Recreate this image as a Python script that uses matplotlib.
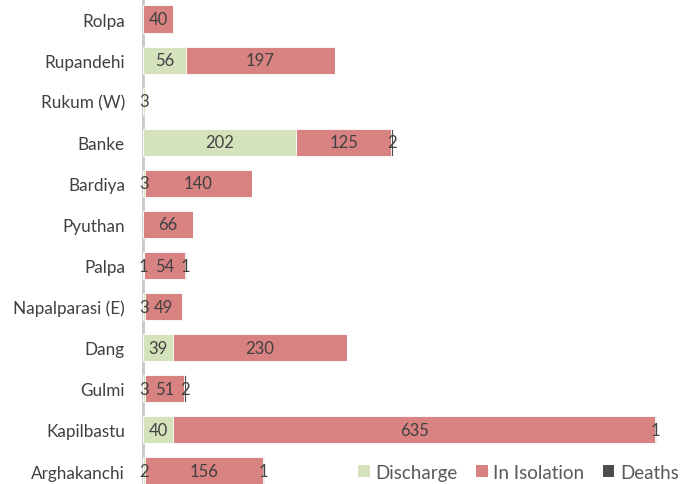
import numpy as np
import matplotlib.pyplot as plt
from matplotlib.patches import Patch

districts = ["Rolpa", "Rupandehi", "Rukum (W)", "Banke", "Bardiya", "Pyuthan",
             "Palpa", "Napalparasi (E)", "Dang", "Gulmi", "Kapilbastu", "Arghakanchi"]
discharge = [0, 56, 3, 202, 3, 0, 1, 3, 39, 3, 40, 2]
isolation = [40, 197, 0, 125, 140, 66, 54, 49, 230, 51, 635, 156]
deaths = [0, 0, 0, 2, 0, 0, 1, 0, 0, 2, 1, 1]

series = [("Discharge", discharge, "#d5e3bc"),
          ("In Isolation", isolation, "#d88282"),
          ("Deaths", deaths, "#4d4d4d")]

plt.rcParams["font.family"] = ["Lato", "DejaVu Sans"]
txt = "#404040"

fig = plt.figure(figsize=(6.82, 4.85), dpi=100)
ax = fig.add_axes([143 / 682, 0, 539 / 682, 1])

y = np.arange(len(districts))
left = np.zeros(len(districts))
for name, vals, col in series:
    vals = np.array(vals, dtype=float)
    ax.barh(y, vals, left=left, height=0.66, color=col, edgecolor="white",
            linewidth=0.6, label=name)
    for yi, (l, v) in enumerate(zip(left, vals)):
        if v > 0:
            ax.text(l + v / 2, yi, f"{int(v)}", ha="center", va="center",
                    fontsize=12, color=txt)
    left += vals

ax.set_xlim(0, 710)
ax.set_ylim(11.316, -0.487)
ax.set_yticks(y)
ax.set_yticklabels(districts, fontsize=12.3, color=txt)
ax.tick_params(axis="y", length=0, pad=13)
ax.set_xticks([])
for s in ["top", "right", "bottom"]:
    ax.spines[s].set_visible(False)
ax.spines["left"].set_color("#c8c8c8")
ax.spines["left"].set_linewidth(2)
ax.spines["left"].set_zorder(0)

handles = [Patch(facecolor=c, edgecolor="none", label=n) for n, _, c in series]
fig.legend(handles=handles, loc="lower right", bbox_to_anchor=(1.02, -0.028),
           ncol=3, frameon=False, fontsize=13.5, handlelength=0.6,
           handleheight=0.6, handletextpad=0.3, columnspacing=1.0,
           labelcolor="#595959")

fig.savefig("out.png", dpi=100)
